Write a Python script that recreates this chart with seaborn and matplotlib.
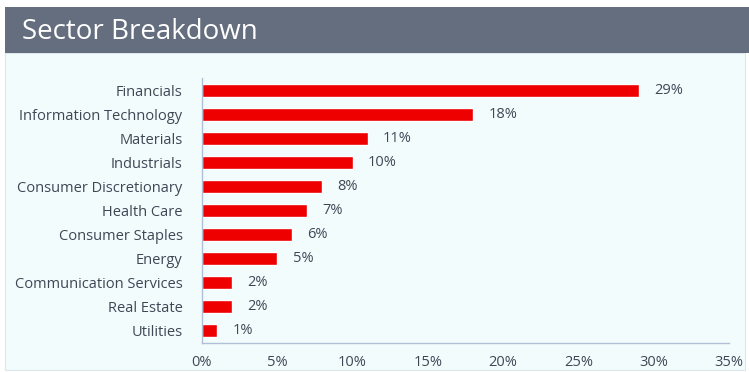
import matplotlib
matplotlib.use("Agg")
import matplotlib.pyplot as plt
import seaborn as sns
import pandas as pd
import numpy as np
from matplotlib.patches import Rectangle

sectors = ["Financials", "Information Technology", "Materials", "Industrials",
           "Consumer Discretionary", "Health Care", "Consumer Staples", "Energy",
           "Communication Services", "Real Estate", "Utilities"]
weights = [29, 18, 11, 10, 8, 7, 6, 5, 2, 2, 1]
xticks = [0, 5, 10, 15, 20, 25, 30, 35]
title = "Sector Breakdown"

df = pd.DataFrame({"sector": sectors, "weight": weights})

sns.set_theme(style="white")
plt.rcParams["font.family"] = ["Open Sans", "DejaVu Sans"]

bg = "#F2FCFD"
txt = "#3F4755"
axc = "#B0BED6"

fig = plt.figure(figsize=(7.49, 3.72), dpi=100)
fig.patch.set_facecolor("white")
# chart panel background and header
fig.add_artist(Rectangle((5/749, 0.005), 740/749, 1 - 55/372, transform=fig.transFigure,
                         facecolor=bg, edgecolor="#DDE6EA", lw=0.8, zorder=-10))
fig.add_artist(Rectangle((5/749, 1 - 53/372), 744/749, 46/372, transform=fig.transFigure,
                         facecolor="#646E7E", edgecolor="none", zorder=-9))
fig.text(22/749, 1 - 32/372, title, color="white", fontsize=20, va="center", ha="left")

ax = fig.add_axes([202/749, 1 - 343/372, 527/749, 265/372])
ax.set_facecolor("none")
sns.barplot(data=df, y="sector", x="weight", orient="h", color="#EE0000",
            width=0.54, ax=ax, saturation=1)
ax.set_xlim(0, 35)
ax.set_ylim(len(sectors) - 0.5, -0.5)
ax.set_xticks(xticks)
ax.set_xticklabels([f"{t}%" for t in xticks], color=txt, fontsize=10.5)
ax.set_yticks(range(len(sectors)))
ax.set_yticklabels(sectors, color=txt, fontsize=10.5)
ax.set_yticks(np.arange(-0.5, len(sectors), 1), minor=True)
ax.tick_params(axis="y", which="major", length=0, pad=14)
ax.tick_params(axis="y", which="minor", length=4, color=axc, width=0.8, direction="out")
ax.tick_params(axis="x", which="major", length=4, color=axc, width=0.8, direction="out", pad=5)
ax.set_xlabel("")
ax.set_ylabel("")
for s in ["top", "right"]:
    ax.spines[s].set_visible(False)
for s in ["left", "bottom"]:
    ax.spines[s].set_color(axc)
    ax.spines[s].set_linewidth(1.0)

for i, v in enumerate(weights):
    ax.annotate(f"{v}%", (v, i), xytext=(11, 0), textcoords="offset points",
                va="center", ha="left", color=txt, fontsize=10.5)

fig.savefig("out.png", dpi=100)
